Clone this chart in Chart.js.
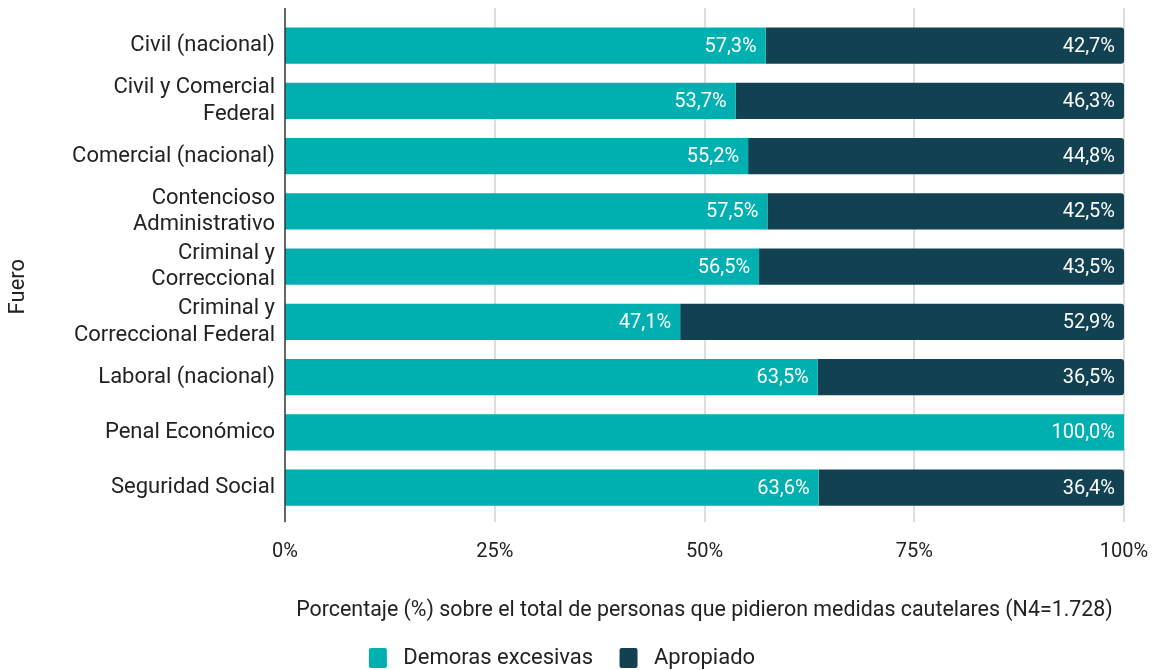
<!DOCTYPE html>
<html>
<head>
<meta charset="utf-8">
<script src="https://cdn.jsdelivr.net/npm/chart.js@4"></script>
<style>
  html, body { margin: 0; padding: 0; background: #fff; }
  #wrap { width: 1157px; height: 670px; }
</style>
</head>
<body>
<div id="wrap"><canvas id="chart" width="1157" height="670"></canvas></div>
<script>
  "use strict";

  const fueros = [
    "Civil (nacional)",
    ["Civil y Comercial", "Federal"],
    "Comercial (nacional)",
    ["Contencioso", "Administrativo"],
    ["Criminal y", "Correccional"],
    ["Criminal y", "Correccional Federal"],
    "Laboral (nacional)",
    "Penal Económico",
    "Seguridad Social"
  ];
  const demoras = [57.3, 53.7, 55.2, 57.5, 56.5, 47.1, 63.5, 100.0, 63.6];
  const apropiado = [42.7, 46.3, 44.8, 42.5, 43.5, 52.9, 36.5, 0, 36.4];
  const xTicks = [0, 25, 50, 75, 100];
  const yTitle = "Fuero";

  const TEAL = "#00b0b0";
  const DARK = "#124252";
  const TEXT = "#222";
  const FONT = "Roboto, 'Noto Sans', sans-serif";

  function fmt(v) {
    return v.toFixed(1).replace(".", ",") + "%";
  }

  // grid lines and y axis line reach a bit past the plot area
  const gridPlugin = {
    id: "extGrid",
    beforeDatasetsDraw(chart) {
      const ctx = chart.ctx;
      const a = chart.chartArea;
      const x = chart.scales.x;
      ctx.save();
      ctx.strokeStyle = "#d2d2d2";
      ctx.lineWidth = 1.5;
      xTicks.forEach((t) => {
        if (t === 0) return;
        const px = Math.round(x.getPixelForValue(t));
        ctx.beginPath();
        ctx.moveTo(px, a.top - 10);
        ctx.lineTo(px, a.bottom + 7);
        ctx.stroke();
      });
      ctx.restore();
    },
    afterDatasetsDraw(chart) {
      const ctx = chart.ctx;
      const a = chart.chartArea;
      const px = Math.round(chart.scales.x.getPixelForValue(0));
      ctx.save();
      ctx.strokeStyle = "#333";
      ctx.lineWidth = 1.5;
      ctx.beginPath();
      ctx.moveTo(px, a.top - 10);
      ctx.lineTo(px, a.bottom + 7);
      ctx.stroke();
      ctx.restore();
    }
  };

  const labelPlugin = {
    id: "barLabels",
    afterDatasetsDraw(chart) {
      const ctx = chart.ctx;
      ctx.save();
      ctx.font = "20px " + FONT;
      ctx.fillStyle = "#fff";
      ctx.textAlign = "right";
      ctx.textBaseline = "middle";
      chart.data.datasets.forEach((ds, i) => {
        const meta = chart.getDatasetMeta(i);
        meta.data.forEach((bar, j) => {
          const v = ds.data[j];
          if (!v) return;
          ctx.fillText(fmt(v), bar.x - 9, bar.y + 1);
        });
      });
      ctx.restore();
    }
  };

  // y axis title sits a little lower than the scale's centre
  const yTitlePlugin = {
    id: "yTitle",
    afterDraw(chart) {
      const ctx = chart.ctx;
      const a = chart.chartArea;
      ctx.save();
      ctx.translate(18, (a.top + a.bottom) / 2 + 20);
      ctx.rotate(-Math.PI / 2);
      ctx.font = "22px " + FONT;
      ctx.fillStyle = TEXT;
      ctx.textAlign = "center";
      ctx.textBaseline = "middle";
      ctx.fillText(yTitle, 0, 0);
      ctx.restore();
    }
  };

  new Chart(document.getElementById("chart"), {
    type: "bar",
    data: {
      labels: fueros,
      datasets: [
        {
          label: "Demoras excesivas",
          data: demoras,
          backgroundColor: TEAL,
          barPercentage: 0.655,
          categoryPercentage: 1
        },
        {
          label: "Apropiado",
          data: apropiado,
          backgroundColor: DARK,
          borderRadius: 3,
          borderSkipped: "start",
          barPercentage: 0.655,
          categoryPercentage: 1
        }
      ]
    },
    options: {
      indexAxis: "y",
      responsive: false,
      animation: false,
      layout: { padding: { top: 18, right: 33, bottom: -9, left: 0 } },
      plugins: {
        legend: {
          position: "bottom",
          labels: {
            color: TEXT,
            font: { family: FONT, size: 22 },
            boxWidth: 18,
            boxHeight: 20,
            padding: 10,
            useBorderRadius: true,
            borderRadius: 2,
            generateLabels: (chart) => {
              const items = Chart.defaults.plugins.legend.labels.generateLabels(chart);
              items.forEach((it, i) => {
                it.text = " " + it.text + (i < items.length - 1 ? "   " : "");
              });
              return items;
            }
          }
        },
        tooltip: { enabled: false }
      },
      scales: {
        x: {
          stacked: true,
          min: 0,
          max: 100,
          afterBuildTicks: (s) => { s.ticks = xTicks.map((v) => ({ value: v })); },
          afterFit: (s) => { s.paddingLeft = 0; s.paddingRight = 0; },
          grid: { display: false, drawTicks: false },
          border: { display: false },
          ticks: {
            color: TEXT,
            font: { family: FONT, size: 20 },
            padding: 24.5,
            maxRotation: 0,
            callback: (v) => v + "%"
          },
          title: {
            display: true,
            text: "Porcentaje (%) sobre el total de personas que pidieron medidas cautelares (N4=1.728)",
            color: TEXT,
            font: { family: FONT, size: 21.4 },
            padding: { top: 9, bottom: 14 }
          }
        },
        y: {
          stacked: true,
          grid: { display: false, drawTicks: false },
          border: { display: false },
          afterFit: (s) => { s.width = 285; s.paddingTop = 0; s.paddingBottom = 0; },
          ticks: {
            color: TEXT,
            font: { family: FONT, size: 22, lineHeight: 1.2 },
            padding: 10,
            autoSkip: false
          },
          title: { display: false }
        }
      }
    },
    plugins: [gridPlugin, labelPlugin, yTitlePlugin]
  });
</script>
</body>
</html>
